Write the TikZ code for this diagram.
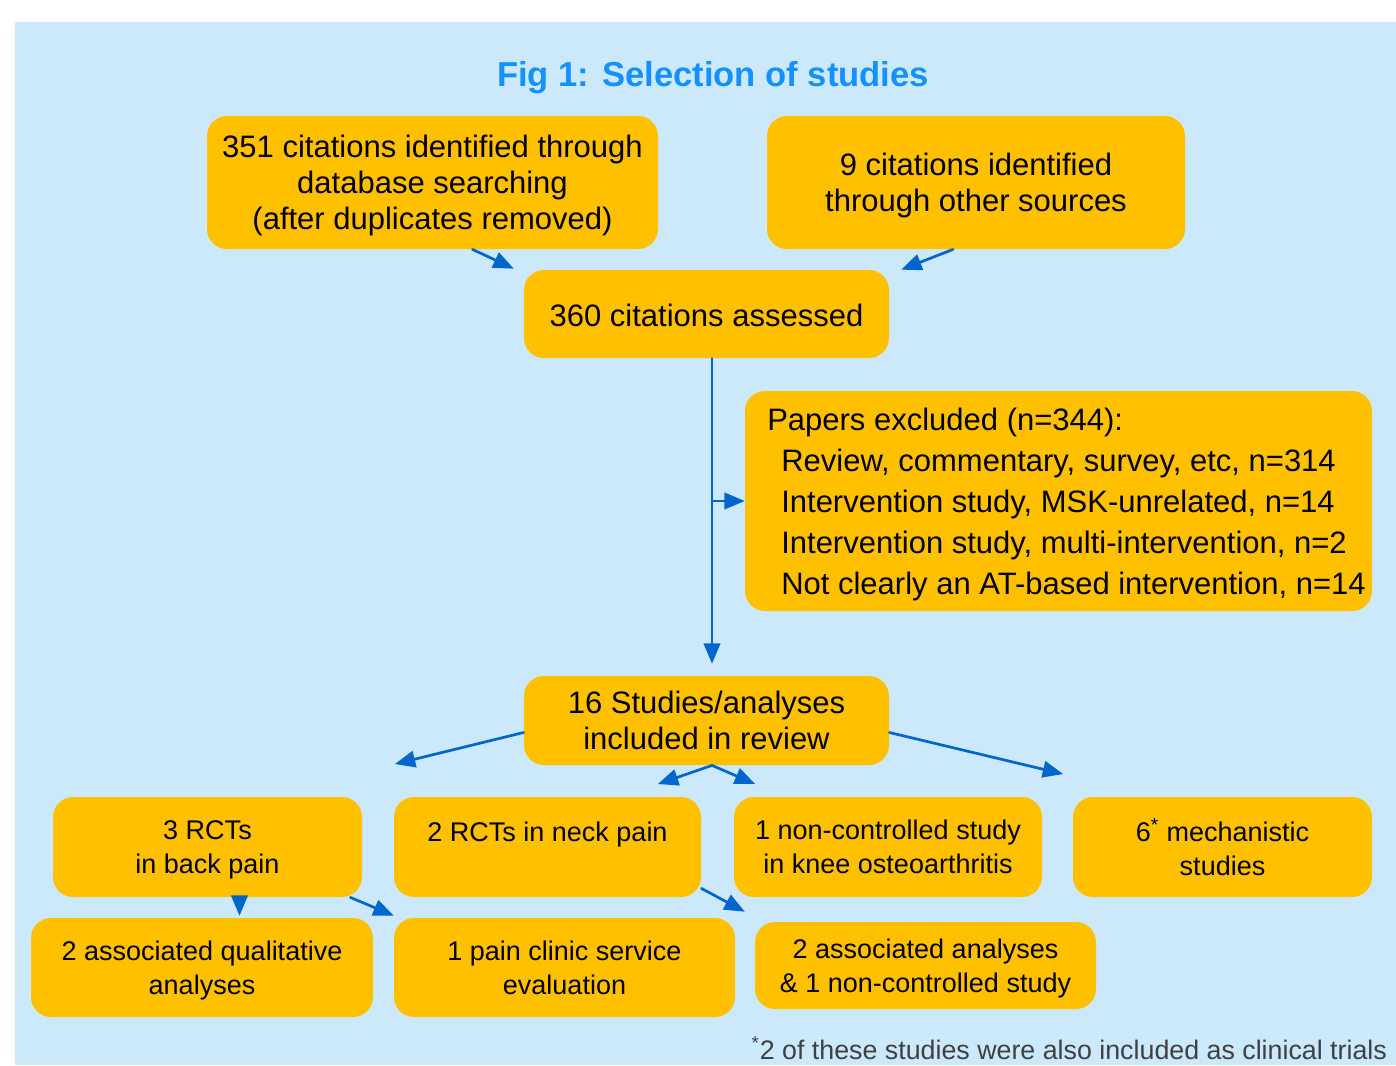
\documentclass[tikz,border=0pt]{standalone}
\usepackage{fontspec}
\setmainfont{Liberation Sans}
\usepackage{tikz}
\usetikzlibrary{arrows}
\definecolor{ccebfc}{rgb}{0.8,0.914,0.988}
\definecolor{ffcqqq}{rgb}{1,0.753,0}
\definecolor{qqwwcc}{rgb}{0,0.4,0.8}
\definecolor{uunnff}{rgb}{0.08,0.57,1}
\definecolor{ssssss}{rgb}{0.25,0.25,0.25}

\begin{document}
\begin{tikzpicture}[line cap=round,line join=round,>=triangle 45,x=0.5pt,y=-0.5pt,
  box/.style={fill=ffcqqq,rounded corners=10pt,align=center,inner sep=0pt,text depth=0pt,
    font=\fontsize{15.5}{18}\selectfont},
  smallbox/.style={box,font=\fontsize{13.5}{17}\selectfont},
  flow/.style={->,color=qqwwcc,line width=1.35pt}]
\useasboundingbox (0,0) rectangle (1396,1065);
\fill[color=ccebfc] (15,22) rectangle (1396,1065);
\node[color=uunnff,font=\fontsize{17.3}{20}\selectfont\bfseries] (title) at (713,78) {Fig 1: Selection of studies};
% top part
\node[box,minimum width=225.5pt,minimum height=66.5pt] (db) at (432.5,182.5) {351 citations identified through\\database searching\\(after duplicates removed)};
\node[box,minimum width=209pt,minimum height=66.5pt] (other) at (976,182.5) {9 citations identified\\through other sources};
\node[box,minimum width=182.5pt,minimum height=44pt] (assessed) at (706.5,314) {\raisebox{-1.5pt}{360 citations assessed}};
\node[box,align=left,minimum width=313.5pt,minimum height=110pt,font=\fontsize{15.5}{20.5}\selectfont] (excl) at (1058.5,501) {\hspace*{8pt}Papers excluded (n=344):\\
  \hspace*{15pt}Review, commentary, survey, etc, n=314\\
  \hspace*{15pt}Intervention study, MSK-unrelated, n=14\\
  \hspace*{15pt}Intervention study, multi-intervention, n=2\\
  \hspace*{15pt}Not clearly an AT-based intervention, n=14};
\node[box,minimum width=182.5pt,minimum height=44.5pt] (incl) at (706.5,720.5) {16 Studies/analyses\\included in review};
% studies
\node[smallbox,minimum width=154.5pt,minimum height=50pt] (back) at (207.5,847) {3 RCTs\\in back pain};
\node[smallbox,minimum width=153.5pt,minimum height=50pt] (neck) at (547.5,847) {2 RCTs in neck pain\\[-2pt]\strut};
\node[smallbox,minimum width=154pt,minimum height=50pt] (knee) at (888,847) {1 non-controlled study\\in knee osteoarthritis};
\node[smallbox,minimum width=149.5pt,minimum height=50pt] (mech) at (1222.5,847) {6\textsuperscript{*} mechanistic\\studies};
\node[smallbox,minimum width=171pt,minimum height=49.5pt] (qual) at (202,967.5) {2 associated qualitative\\analyses};
\node[smallbox,minimum width=170.5pt,minimum height=49.5pt] (clinic) at (564.5,967.5) {1 pain clinic service\\evaluation};
\node[smallbox,minimum width=170.5pt,minimum height=43.5pt] (assoc) at (925.5,965.5) {2 associated analyses\\\& 1 non-controlled study};
\node[color=ssssss,anchor=east,font=\fontsize{13.4}{15}\selectfont] (note) at (1394,1048) {\textsuperscript{*}2 of these studies were also included as clinical trials};
% free ends
\coordinate (lftend) at (395,764);
\coordinate (rgtend) at (1063,774);
\coordinate (midl) at (658,784);
\coordinate (midr) at (755,784);
% arrows
\draw[flow] ([xshift=20pt]db.south) -- ([xshift=-5pt,yshift=0.5pt]assessed.north west);
\draw[flow] ([xshift=-11.5pt]other.south) -- ([xshift=6pt]assessed.north east);
\draw[flow] ([xshift=2.75pt]assessed.south) -- ([xshift=2.75pt,yshift=6pt]incl.north);
\draw[flow] ([xshift=2.75pt]assessed.south |- excl.west) -- (excl.west);
\draw[flow] ([yshift=-6pt]incl.west) -- (lftend);
\draw[flow] ([yshift=-6pt]incl.east) -- (rgtend);
\draw[flow] ([xshift=2.75pt]incl.south) -- (midl);
\draw[flow] ([xshift=2.75pt]incl.south) -- (midr);
\draw[flow] ([xshift=16pt]back.south) -- ([xshift=16pt,yshift=1pt]back.south |- qual.north);
\draw[flow] ([xshift=-6pt]back.south east) -- ([yshift=1pt]clinic.north west);
\draw[flow] ([yshift=4.5pt]neck.south east) -- ([xshift=-5pt,yshift=5pt]assoc.north west);
\end{tikzpicture}
\end{document}
